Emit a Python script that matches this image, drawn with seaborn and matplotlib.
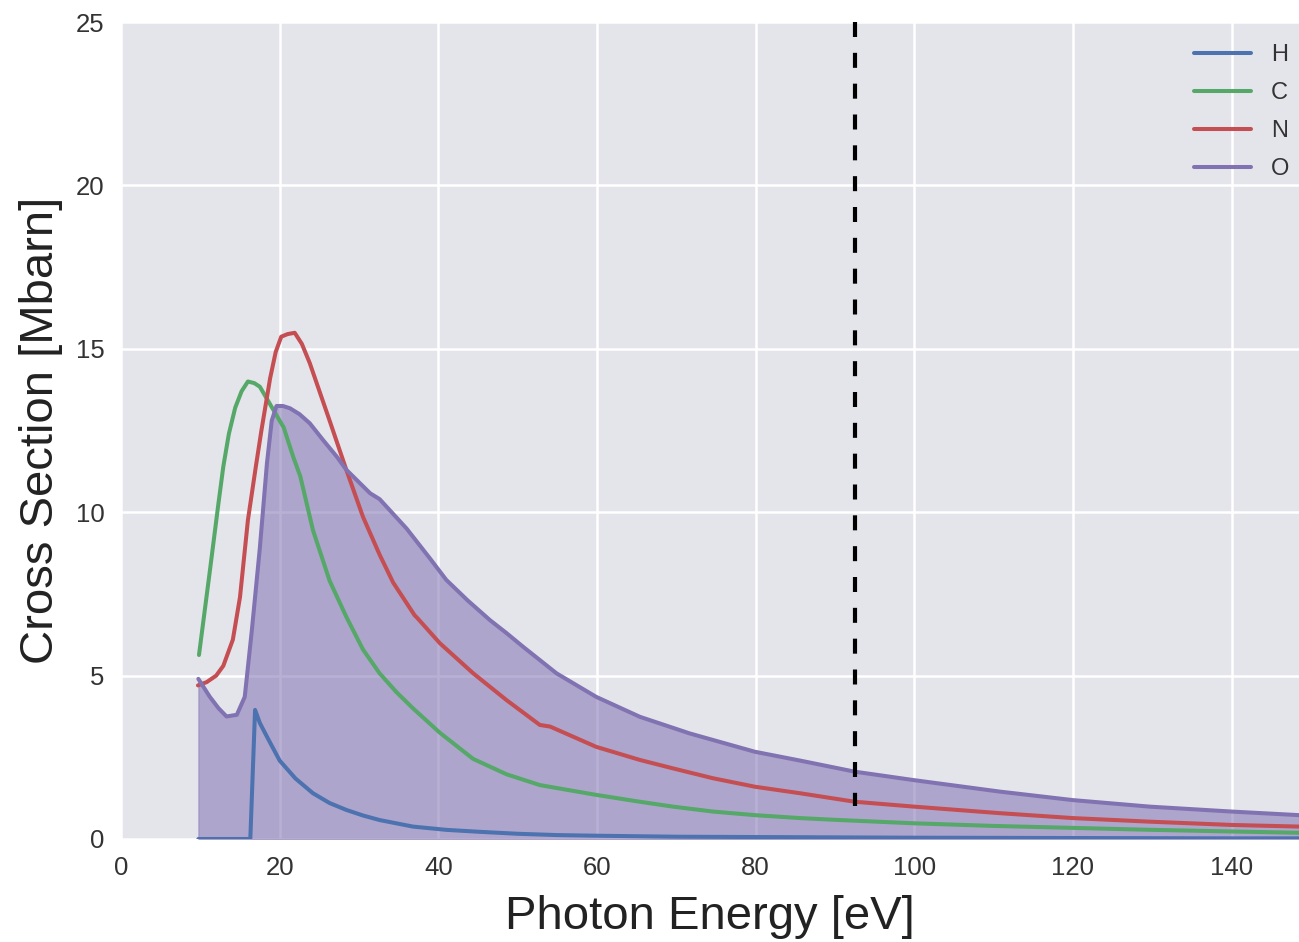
import numpy as np
import matplotlib
matplotlib.use("Agg")
import matplotlib.pyplot as plt
import seaborn as sns

# ---- data ----
h_energy = [9.75, 16.3, 16.9, 17.5, 18.4, 20.0, 22.0, 24.2, 26.3, 28.4, 30.5, 32.6, 36.8, 41.0, 45.2, 50.0,
            55.0, 60.0, 70.0, 80.0, 90.0, 100.0, 110.0, 120.0, 130.0, 140.0, 148.5]
h_xsec = [0.0, 0.0, 3.95, 3.55, 3.13, 2.4, 1.85, 1.4, 1.1, 0.89, 0.72, 0.58, 0.38, 0.28, 0.22, 0.16,
          0.12, 0.1, 0.07, 0.06, 0.05, 0.04, 0.035, 0.03, 0.025, 0.02, 0.02]

c_energy = [9.83, 11.2, 12.3, 12.9, 13.6, 14.4, 15.2, 16.0, 16.8, 17.5, 18.8, 20.0, 20.5, 21.7, 22.6, 24.2,
            26.3, 28.4, 30.5, 32.6, 34.7, 36.8, 40.2, 44.4, 48.6, 52.8, 59.9, 65.4, 69.6, 74.6, 79.9, 85.6,
            90.6, 100.0, 110.0, 120.0, 130.0, 140.0, 148.5]
c_xsec = [5.63, 8.2, 10.3, 11.4, 12.4, 13.2, 13.7, 14.0, 13.95, 13.84, 13.3, 12.8, 12.6, 11.7, 11.1, 9.45,
          7.9, 6.8, 5.8, 5.07, 4.5, 4.0, 3.25, 2.45, 1.98, 1.65, 1.35, 1.14, 0.99, 0.84, 0.73, 0.64,
          0.58, 0.48, 0.40, 0.34, 0.28, 0.23, 0.19]

n_energy = [9.7, 10.8, 12.0, 12.9, 14.1, 15.0, 16.0, 17.0, 17.7, 18.8, 19.5, 20.2, 21.0, 21.9, 22.8, 23.8,
            26.3, 28.4, 30.5, 32.6, 34.3, 37.0, 37.4, 40.2, 44.4, 48.6, 52.8, 54.1, 59.9, 65.4, 69.6, 74.6,
            79.9, 85.6, 92.5, 100.0, 110.8, 120.0, 129.7, 140.0, 148.5]
n_xsec = [4.7, 4.8, 5.0, 5.3, 6.1, 7.4, 9.76, 11.4, 12.5, 14.1, 14.9, 15.37, 15.45, 15.49, 15.15, 14.56,
          12.8, 11.3, 9.86, 8.7, 7.85, 6.85, 6.75, 5.99, 5.07, 4.25, 3.49, 3.44, 2.82, 2.42, 2.16, 1.86,
          1.60, 1.4, 1.14, 0.99, 0.79, 0.64, 0.53, 0.43, 0.38]

o_energy = [9.75, 11.2, 12.3, 13.3, 14.6, 15.6, 16.5, 17.5, 18.4, 19.0, 19.6, 20.4, 21.3, 22.5, 23.8, 25.5,
            27.2, 28.4, 31.4, 32.6, 34.3, 36.0, 38.9, 41.0, 43.7, 46.5, 48.6, 50.7, 54.9, 59.9, 65.4, 71.7,
            79.9, 85.6, 92.5, 100.0, 110.8, 120.0, 129.7, 140.0, 148.5]
o_xsec = [4.9, 4.35, 4.0, 3.75, 3.8, 4.35, 6.4, 8.9, 11.5, 12.8, 13.25, 13.25, 13.18, 13.0, 12.72, 12.2,
          11.7, 11.3, 10.58, 10.4, 9.95, 9.5, 8.6, 7.93, 7.3, 6.70, 6.3, 5.88, 5.07, 4.35, 3.74, 3.23,
          2.67, 2.4, 2.06, 1.8, 1.45, 1.19, 0.99, 0.84, 0.73]

elements = ["H", "C", "N", "O"]
threshold_energy = 92.5
threshold_bottom = 1.0
x_ticks = [0, 20, 40, 60, 80, 100, 120, 140]
y_ticks = [0, 5, 10, 15, 20, 25]

# ---- style ----
sns.set_theme(style="darkgrid", rc={
    "axes.facecolor": "#E4E4EB",
    "grid.color": "white",
    "grid.linewidth": 1.8,
    "xtick.major.size": 0,
    "ytick.major.size": 0,
})
plt.rcParams["font.family"] = ["Liberation Sans", "DejaVu Sans"]

colors = ["#4C72B0", "#55A868", "#C44E52", "#8172B2"]

fig = plt.figure(figsize=(12.99, 9.42), dpi=100)
ax = fig.add_axes([121 / 1299, 1 - 839 / 942, (1299 - 121) / 1299, (839 - 22) / 942])

series = [(h_energy, h_xsec), (c_energy, c_xsec), (n_energy, n_xsec), (o_energy, o_xsec)]
for (e, s), name, col in zip(series, elements, colors):
    sns.lineplot(x=e, y=s, ax=ax, color=col, linewidth=2.9, label=name, sort=False)

ax.fill_between(o_energy, 0, o_xsec, color=colors[3], alpha=0.55, linewidth=0.8, zorder=1.5)

ax.plot([threshold_energy, threshold_energy], [25, threshold_bottom], color="black",
        linewidth=3, linestyle=(0, (3.6, 3.8)), zorder=5)

ax.set_xlim(0, 148.5)
ax.set_ylim(0, 25)
ax.set_xticks(x_ticks)
ax.set_yticks(y_ticks)
ax.tick_params(axis="both", labelsize=18.5, labelcolor="#333333", pad=12)
ax.set_xlabel("Photon Energy [eV]", fontsize=34, color="#222222", labelpad=11)
ax.set_ylabel("Cross Section [Mbarn]", fontsize=34, color="#222222", labelpad=9)

for sp in ax.spines.values():
    sp.set_visible(False)

leg = ax.legend(loc="upper right", bbox_to_anchor=(1.0, 0.9846), frameon=False, fontsize=17,
                handlelength=2.4, handletextpad=0.85, labelspacing=0.68, borderaxespad=0.0,
                borderpad=0.4)
for line in leg.get_lines():
    line.set_linewidth(2.9)
for t in leg.get_texts():
    t.set_color("#333333")

fig.savefig("out.png", dpi=100)
